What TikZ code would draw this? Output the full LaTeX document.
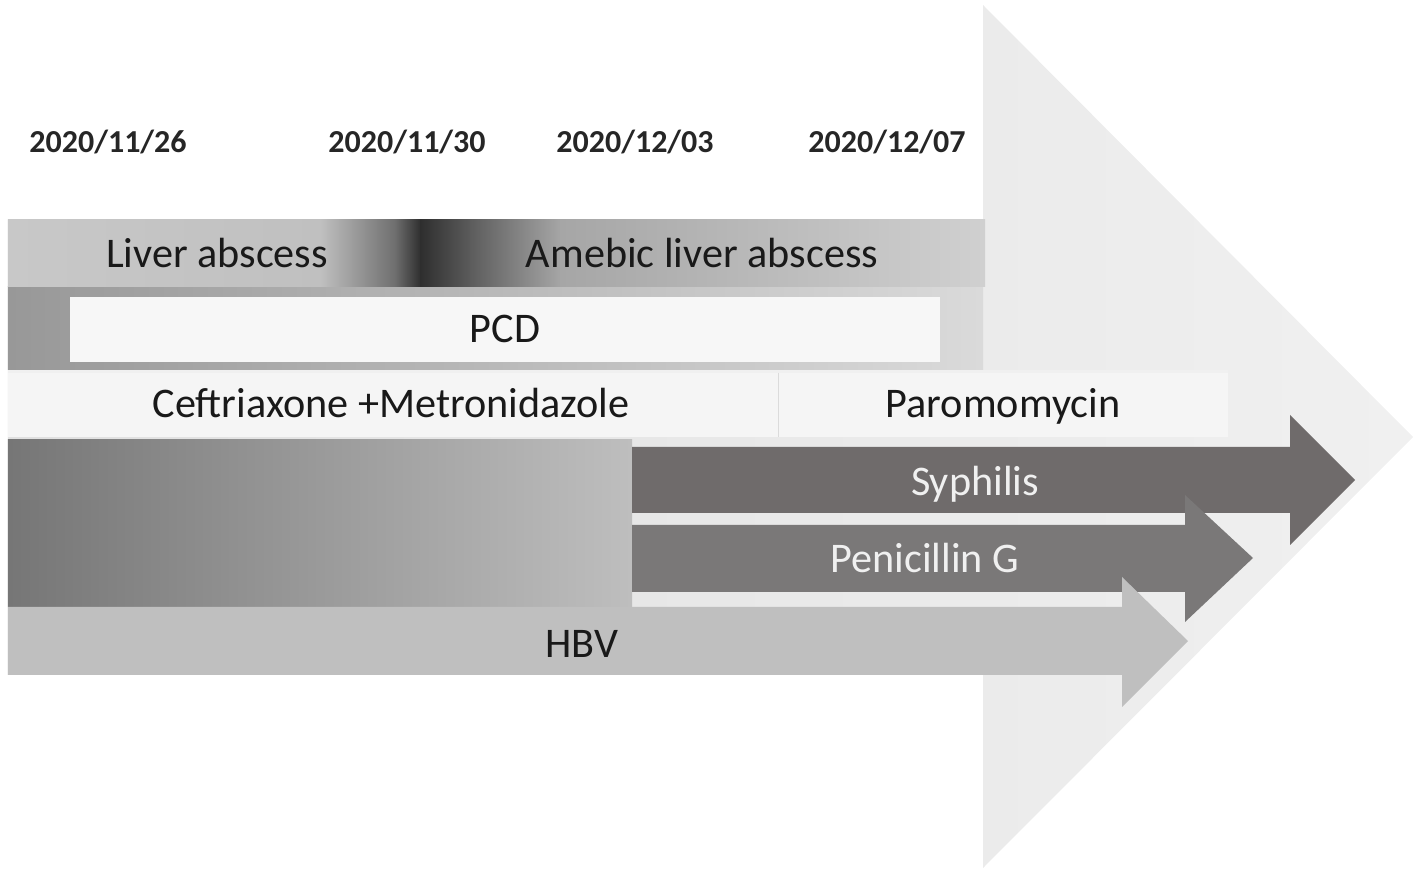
\documentclass[tikz,border=0pt]{standalone}
\usepackage{fontspec}
\setmainfont{Carlito}
\begin{document}
\begin{tikzpicture}[x=0.01cm,y=-0.01cm,
  lab/.style={anchor=base,inner sep=0pt,font=\fontsize{12}{14}\selectfont,text=black!90},
  wlab/.style={lab,text=white!94!black},
  datelab/.style={anchor=base,inner sep=0pt,font=\bfseries\fontsize{9.1}{11}\selectfont,text=black!85},
  syphcol/.style={fill={rgb,255:red,111;green,107;blue,107}},
  pencol/.style={fill={rgb,255:red,122;green,120;blue,120}},
  hbvcol/.style={fill={rgb,255:red,191;green,191;blue,191}},
  paleBox/.style={fill={rgb,255:red,245;green,245;blue,245}}
]
\useasboundingbox (0,0) rectangle (1417,876);
% big background arrow
\shade[left color={rgb,255:red,224;green,224;blue,224},right color={rgb,255:red,240;green,240;blue,240}]
  (8,220) -- (983,220) -- (983,5) -- (1413,437) -- (983,868) -- (983,675) -- (8,675) -- cycle;
% row 2 gray band
\shade[left color={rgb,255:red,152;green,152;blue,152},right color={rgb,255:red,218;green,218;blue,218}]
  (8,287) rectangle (983,370);
% row 1 gradient bar
\shade[left color={rgb,255:red,200;green,200;blue,200},right color={rgb,255:red,192;green,192;blue,192}] (8,220) rectangle (321,287);
\shade[left color={rgb,255:red,192;green,192;blue,192},right color={rgb,255:red,110;green,110;blue,110}] (320,220) rectangle (396,287);
\shade[left color={rgb,255:red,110;green,110;blue,110},right color={rgb,255:red,46;green,46;blue,46}] (395,220) rectangle (421,287);
\shade[left color={rgb,255:red,46;green,46;blue,46},right color={rgb,255:red,92;green,92;blue,92}] (420,220) rectangle (471,287);
\shade[left color={rgb,255:red,92;green,92;blue,92},right color={rgb,255:red,166;green,166;blue,166}] (470,220) rectangle (561,287);
\shade[left color={rgb,255:red,166;green,166;blue,166},right color={rgb,255:red,208;green,208;blue,208}] (560,220) rectangle (985,287);
% PCD box
\fill[fill={rgb,255:red,247;green,247;blue,247}] (70,297) rectangle (940,362);
% row 3 boxes
\fill[white!94!black] (8,370) rectangle (1228,373);
\fill[paleBox] (8,373) rectangle (778,437);
\fill[paleBox] (779,373) rectangle (1228,437);
\draw[black!14,line width=0.4pt] (778.5,373) -- (778.5,437);
% lower dark block
\shade[left color={rgb,255:red,118;green,118;blue,118},right color={rgb,255:red,190;green,190;blue,190}] (8,440) rectangle (632,607);
% arrows
\fill[syphcol] (632,447) -- (1290,447) -- (1290,415) -- (1355,480) -- (1290,545) -- (1290,513) -- (632,513) -- cycle;
\fill[pencol] (632,525) -- (1185,525) -- (1185,495) -- (1253,558) -- (1185,622) -- (1185,592) -- (632,592) -- cycle;
\fill[hbvcol] (8,607) -- (1122,607) -- (1122,577) -- (1188,641) -- (1122,707) -- (1122,675) -- (8,675) -- cycle;
% dates
\node[datelab] (d1) at (108,153) {2020/11/26};
\node[datelab] (d2) at (407,153) {2020/11/30};
\node[datelab] (d3) at (635,153) {2020/12/03};
\node[datelab] (d4) at (887,153) {2020/12/07};
% labels
\node[lab] (liver) at (217,268) {Liver abscess};
\node[lab] (amebic) at (702,268) {Amebic liver abscess};
\node[lab] (pcd) at (505,343) {PCD};
\node[lab] (cef) at (391,418) {Ceftriaxone +Metronidazole};
\node[lab] (paro) at (1003,418) {Paromomycin};
\node[wlab] (syph) at (975,495) {Syphilis};
\node[wlab] (pen) at (925,573) {Penicillin G};
\node[lab] (hbv) at (582,657) {HBV};
\end{tikzpicture}
\end{document}
